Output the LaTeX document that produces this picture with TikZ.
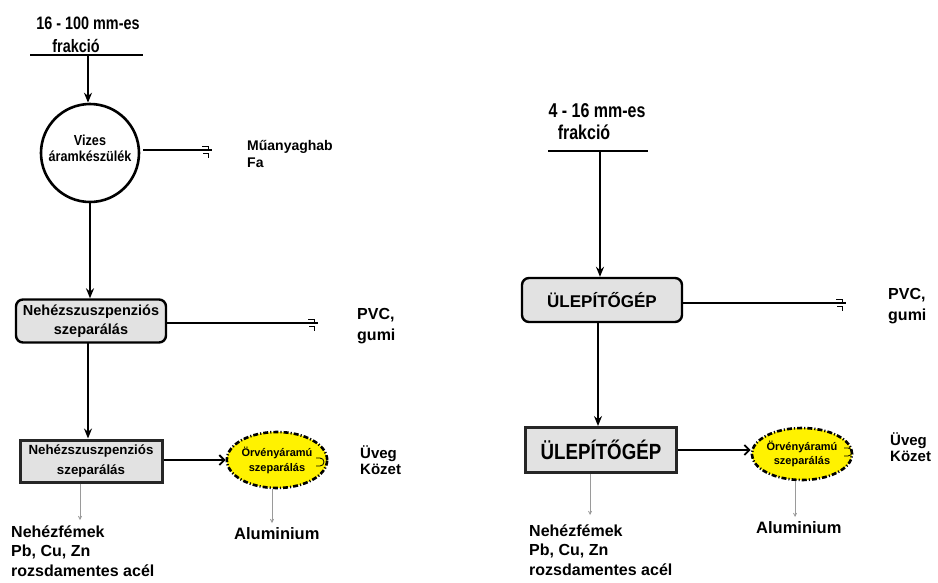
\documentclass[tikz,border=0pt]{standalone}
\usepackage{fontspec}
\usepackage{graphicx}
\setmainfont{Liberation Sans}
\usetikzlibrary{arrows.meta,shapes.geometric}
\definecolor{boxgray}{HTML}{E2E2E2}
\definecolor{thingray}{HTML}{9A9A9A}
\newcommand{\fs}[1]{\fontsize{#1}{#1}\selectfont}
\begin{document}
\begin{tikzpicture}[x=1pt,y=-1pt,font=\bfseries,
  feedbar/.style={line width=2.8pt},
  flow/.style={line width=2.4pt},
  flowarr/.style={line width=2.4pt,-{Stealth[length=10pt,width=8pt]}},
  openarr/.style={line width=2.4pt,-{Straight Barb[length=5pt,width=10pt,line width=1.8pt]}},
  thinarr/.style={draw=thingray,line width=0.8pt,-{Straight Barb[length=3pt,width=3pt]}},
  roundbox/.style={draw,line width=2.4pt,rounded corners=7pt,fill=boxgray,inner sep=0pt,align=center},
  heavybox/.style={draw=black!85,line width=3pt,fill=boxgray,inner sep=0pt,align=center},
  eddy/.style={ellipse,draw,fill=yellow,line width=2.6pt,
    dash pattern=on 5pt off 2pt on 1.2pt off 2pt,inner sep=0pt,align=center},
  outtext/.style={anchor=base west,align=left,inner sep=0pt},
  endmark/.pic={\draw[line width=0.8pt] (-10,-4)--(-4,-4)--(-4,0)
                 (-9,3)--(-4,3)--(-4,8);},
  cupmark/.pic={\draw[line width=0.8pt] (0,-4) arc[start angle=90,end angle=-90,radius=4pt]
                 (-4,-4)--(0,-4) (-4,4)--(0,4);}
]
\useasboundingbox (0,0) rectangle (938,582);

% ---------- 16 - 100 mm fraction line ----------
\node[inner sep=0pt] (tA1) at (88,23) {\scalebox{0.8}[1]{\fs{18}16 - 100 mm-es}};
\node[inner sep=0pt] (tA2) at (76,46) {\scalebox{0.8}[1]{\fs{18}frakció}};
\coordinate (barAL) at (30,55);
\coordinate (barAR) at (143,55);
\draw[feedbar] (barAL) -- (barAR);
\coordinate (barAM) at (88,55);

\node[circle,draw,line width=2.6pt,minimum size=98pt,inner sep=0pt] (vizes) at (90,153) {};
\node[anchor=base,align=center,inner sep=0pt] (vizesTxt) at (90,161)
  {\scalebox{0.87}[1]{\fs{14.5}Vizes}\\[4pt]\scalebox{0.87}[1]{\fs{14.5}áramkészülék}};
\draw[flowarr] (barAM) -- (barAM |- vizes.north);

\coordinate (muEnd) at (212,150);
\draw[flow] (vizes.east |- muEnd) ++(3,0) -- (muEnd);
\pic at (muEnd) {endmark};
\node[outtext,font=\bfseries\fontsize{14}{17}\selectfont] (mu) at (247,167) {Műanyaghab\\Fa};

\node[roundbox,minimum width=150pt,minimum height=43pt,font=\bfseries\fontsize{14.5}{19}\selectfont]
  (nsA) at (91,321) {Nehézszuszpenziós\\szeparálás};
\draw[flowarr] (vizes.south) -- (nsA.north -| vizes.south);

\coordinate (pvcAEnd) at (318,323);
\draw[flow] (nsA.east |- pvcAEnd) -- (pvcAEnd);
\pic at (pvcAEnd) {endmark};
\node[outtext,font=\bfseries\fontsize{16}{21}\selectfont] (pvcA) at (357,340) {PVC,\\gumi};

\node[heavybox,minimum width=142pt,minimum height=42pt,font=\bfseries\fontsize{13.3}{20}\selectfont]
  (nsB) at (91,461) {Nehézszuszpenziós\\szeparálás};
\draw[flowarr] (88,343) -- (nsB.north -| 88,0);

\node[eddy,minimum width=81pt,minimum height=56pt,font=\bfseries\fontsize{11}{15}\selectfont]
  (eddyA) at (277,460) {Örvényáramú\\szeparálás};
\draw[openarr] (nsB.east |- eddyA.west) -- (eddyA.west);
\coordinate (glassA) at (320,462);
\pic at (glassA) {cupmark};
\node[outtext,font=\bfseries\fontsize{15}{16}\selectfont] (glA) at (360,474) {Üveg\\Közet};

\coordinate (heavyAEnd) at (80,520);
\draw[thinarr] (nsB.south -| heavyAEnd) -- (heavyAEnd);
\node[outtext,font=\bfseries\fontsize{16}{19.5}\selectfont] (heavyA) at (11,576)
  {Nehézfémek\\Pb, Cu, Zn\\rozsdamentes acél};

\coordinate (alAEnd) at (272,523);
\draw[thinarr] (eddyA.south -| alAEnd) -- (alAEnd);
\node[outtext,font=\bfseries\fs{16.5}] (alA) at (234,539) {Aluminium};

% ---------- 4 - 16 mm fraction line ----------
\node[inner sep=0pt] (tB1) at (597,111) {\scalebox{0.8}[1]{\fs{20}4 - 16 mm-es}};
\node[inner sep=0pt] (tB2) at (584,132) {\scalebox{0.8}[1]{\fs{20}frakció}};
\coordinate (barBL) at (548,151);
\coordinate (barBR) at (648,151);
\draw[feedbar] (barBL) -- (barBR);
\coordinate (barBM) at (600,151);

\node[roundbox,minimum width=160pt,minimum height=44pt,font=\bfseries\fs{17}]
  (ulA) at (602,300) {ÜLEPÍTŐGÉP};
\draw[flowarr] (barBM) -- (ulA.north -| barBM);

\coordinate (pvcBEnd) at (846,303);
\draw[flow] (ulA.east |- pvcBEnd) -- (pvcBEnd);
\pic at (pvcBEnd) {endmark};
\node[outtext,font=\bfseries\fontsize{16}{21}\selectfont] (pvcB) at (888,320) {PVC,\\gumi};

\node[heavybox,minimum width=151pt,minimum height=45pt]
  (ulB) at (601,450) {\scalebox{0.85}[1]{\fs{22}ÜLEPÍTŐGÉP}};
\draw[flowarr] (598,322) -- (ulB.north -| 598,0);

\node[eddy,minimum width=86pt,minimum height=52pt,font=\bfseries\fontsize{11}{14}\selectfont]
  (eddyB) at (802,454) {Örvényáramú\\szeparálás};
\draw[openarr] (ulB.east |- 0,450) -- (eddyB.west |- 0,450);
\coordinate (glassB) at (848,452);
\pic at (glassB) {cupmark};
\node[outtext,font=\bfseries\fontsize{15}{16}\selectfont] (glB) at (890,461) {Üveg\\Közet};

\coordinate (heavyBEnd) at (590,515);
\draw[thinarr] (ulB.south -| heavyBEnd) -- (heavyBEnd);
\node[outtext,font=\bfseries\fontsize{16}{19.5}\selectfont] (heavyB) at (529,575)
  {Nehézfémek\\Pb, Cu, Zn\\rozsdamentes acél};

\coordinate (alBEnd) at (795,517);
\draw[thinarr] (eddyB.south -| alBEnd) -- (alBEnd);
\node[outtext,font=\bfseries\fs{16.5}] (alB) at (756,533) {Aluminium};
\end{tikzpicture}
\end{document}
